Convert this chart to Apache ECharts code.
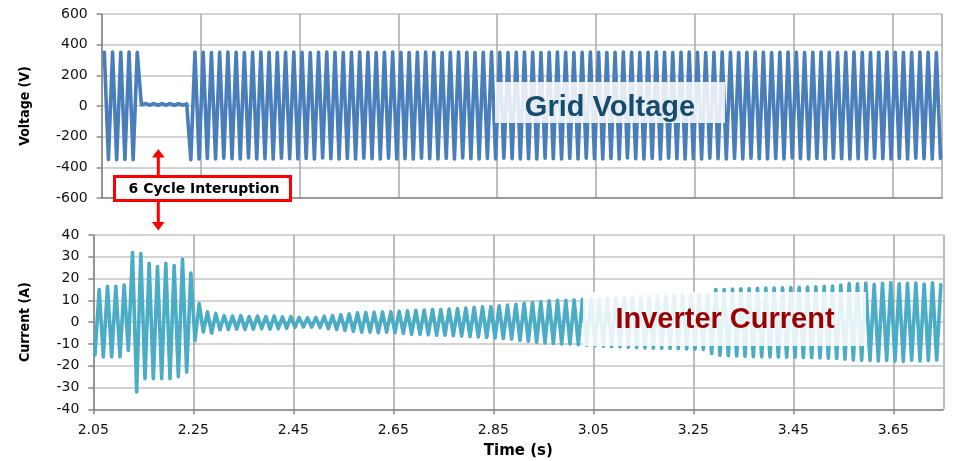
<!DOCTYPE html>
<html>
<head>
<meta charset="utf-8">
<script src="https://cdn.jsdelivr.net/npm/echarts@6/dist/echarts.min.js"></script>
<style>
html,body{margin:0;padding:0;background:#fff;}
#c{width:954px;height:461px;}
</style>
</head>
<body>
<div id="c"></div>
<script>
// ---- Data (half-cycle peak values, 60 Hz time base) ----
const halfPeriod = 1 / 120;          // s between successive peaks (60 Hz)
const voltageStart = 2.0553;         // time of first voltage peak (s)
const currentStart = 2.0534;         // time of first current peak (s)

// Grid voltage (V): before interruption, during the 6-cycle interruption, after
const voltageBefore = [350, -348, 352, -350, 350, -348, 352, -350, 350];
const voltageDuring = [8, 16, 6, 16, 5, 15, 6, 16, 5, 15, 6, 14];
const voltageAfter = [
  -350,352, -346,350, -342,348, -345,350, -340,352, -344,350, -346,348, -338,350, -345,352, -343,350,
  -346,348, -340,350, -344,352, -346,350, -342,348, -345,350, -338,352, -344,350, -346,348, -342,350,
  -345,352, -340,350, -344,348, -346,350, -341,352, -345,350, -343,348, -346,350, -340,352, -344,350,
  -346,348, -342,350, -345,352, -339,350, -344,348, -346,350, -342,352, -345,350, -341,348, -344,350,
  -346,352, -343,350, -345,348, -340,350, -344,352, -346,350, -342,348, -345,350, -341,352, -344,350,
  -346,348, -342,350, -345,352, -339,350, -344,348, -346,350, -342,352, -345,350, -340,348, -344,350,
  -346,352, -343,350, -345,348, -341,350, -344,352, -346,350, -342,348, -345,350, -340,352, -344,350,
  -346,348, -342,350, -345,352, -339,350, -344,348, -346,350, -342,352, -345,350, -341,348, -344,350,
  -346,352, -343,350, -345,348, -341,350, -344,352, -346,350, -342,348, -345,350, -340,352, -344,350,
  -346,348, -342
];

// Inverter current (A)
const currentPeaks = [
  -15, 15, -16, 16.5, -16, 16.5, -16, 17, -13, 32, -32, 31.5, -26, 27, -26, 25.5,
  -26, 27, -26, 26, -25, 29, -23, 22.5, -8.5, 8.5, -4.5, 4.7, -5, 4, -3.5, 3,
  -3.4, 2.8, -3.2, 3, -3.4, 2.6, -3.2, 2.8, -3, 2.6, -3.2, 2.8, -3, 2.4, -2.8, 2.6,
  -2.4, 2.2, -2.2, 2, -2.3, 2.2, -2.5,
  2.7, -3, 3, -3.4, 3.4, -3.8, 3.8, -4.2, 4.3, -4.6,
  4.4, -4.6, 4.5, -4.8, 4.6, -4.6, 4.7, -4.8,
  5, -5.2, 5.2, -5.5, 5.4, -5.6, 5.6, -5.8, 5.8,
  -6, 5.8, -6, 6, -6.2, 6.2, -6.4, 6.5, -6.6, 6.8, -6.8, 7, -7, 7.2, -7.3, 7.5,
  -7.5, 7.8, -7.8, 8.2, -8.4, 8.6, -8.8, 9, -9.2, 9.4, -9.5, 9.8, -9.8,
  10, -10, 10, -10, 10.2, -10.3,
  10.5, -10.6, 10.7, -10.8, 10.9, -11, 11, -11.2, 11.2, -11.3, 11.4, -11.5, 11.5, -11.6,
  11.7, -11.8, 11.8, -11.9, 12, -12, 12, -12.1, 12.2, -12.2, 12.3, -12.3, 12.4, -12.4, 12.5, -12.5, 12.5,
  -14.4, 15, -15.2, 15, -15.4, 15.2, -15.5, 15.3, -15.6, 15.4, -15.8, 15.5, -15.9,
  15.6, -16, 15.7, -16, 15.8, -16.1, 15.9, -16.1, 16, -16.2, 16.1, -16.3, 16.2, -16.4, 16.4, -16.5, 16.6, -16.6, 17, -17,
  17.7, -17.4, 17.6, -17.5, 18, -17.6, 17.4, -17.8, 17.8, -17.6, 18.2, -17.8, 17.6, -18, 17.8, -17.5, 18, -17.8, 17.5, -17.6, 18.1, -17.4, 17.2
];

// Axis ticks
const timeMin = 2.05, timeMax = 3.75, timeStep = 0.2;
const voltMin = -600, voltMax = 600, voltStep = 200;
const currMin = -40, currMax = 40, currStep = 10;

// ---- Build series ----
const voltageValues = voltageBefore.concat(voltageDuring, voltageAfter);
const voltageData = voltageValues.map((v, i) => [voltageStart + i * halfPeriod, v]);
const currentData = currentPeaks.map((v, i) => [currentStart + i * halfPeriod, v]);

const labelFont = 'DejaVu Sans';
const titleFont = "'DejaVu Sans Condensed', 'DejaVu Sans', sans-serif";

function xAxisCfg(idx, showLabels) {
  return {
    gridIndex: idx, type: 'value', min: timeMin, max: timeMax, interval: timeStep,
    axisLine: { show: true, onZero: false, lineStyle: { color: '#868686', width: 1.5 } },
    axisTick: { show: showLabels, length: 5, lineStyle: { color: '#868686', width: 1.5 } },
    axisLabel: {
      show: showLabels, showMaxLabel: false, margin: 14,
      fontFamily: labelFont, fontSize: 14, color: '#111',
      formatter: v => v.toFixed(2)
    },
    splitLine: { show: true, lineStyle: { color: '#a8a8a8', width: 1.5 } }
  };
}
function yAxisCfg(idx, min, max, step, name, gap) {
  return {
    gridIndex: idx, type: 'value', min: min, max: max, interval: step,
    name: name, nameLocation: 'middle', nameGap: gap,
    nameTextStyle: { fontFamily: titleFont, fontSize: 14, fontWeight: 'bold', color: '#000' },
    axisLine: { show: true, lineStyle: { color: '#868686', width: 1.5 } },
    axisTick: { show: true, length: 5, lineStyle: { color: '#868686', width: 1.5 } },
    axisLabel: { margin: 14, fontFamily: labelFont, fontSize: 14, color: '#111' },
    splitLine: { show: true, lineStyle: { color: '#c4c4c4', width: 1.5 } }
  };
}

const chart = echarts.init(document.getElementById('c'), null, { renderer: 'canvas' });
chart.setOption({
  animation: false,
  backgroundColor: '#fff',
  grid: [
    { left: 101.7, top: 14, width: 840.3, height: 184 },
    { left: 93.3, top: 235, width: 850, height: 174.3 }
  ],
  xAxis: [
    xAxisCfg(0, false),
    Object.assign(xAxisCfg(1, true), {
      name: 'Time (s)', nameLocation: 'middle', nameGap: 34,
      nameTextStyle: { fontFamily: labelFont, fontSize: 15, fontWeight: 'bold', color: '#000' }
    })
  ],
  yAxis: [
    yAxisCfg(0, voltMin, voltMax, voltStep, 'Voltage (V)', 69),
    yAxisCfg(1, currMin, currMax, currStep, 'Current (A)', 61)
  ],
  series: [
    {
      type: 'line', xAxisIndex: 0, yAxisIndex: 0, data: voltageData,
      showSymbol: false, clip: true, z: 3, sampling: null,
      lineStyle: { color: '#4a7ebb', width: 3.6, join: 'round', cap: 'round' }
    },
    {
      type: 'line', xAxisIndex: 1, yAxisIndex: 1, data: currentData,
      showSymbol: false, clip: true, z: 3, sampling: null,
      lineStyle: { color: '#4bacc6', width: 3.6, join: 'round', cap: 'round' }
    }
  ],
  graphic: [
    { type: 'rect', z: 100, shape: { x: 495, y: 82, width: 230, height: 41 },
      style: { fill: 'rgba(255,255,255,0.84)' } },
    { type: 'text', z: 101, x: 610, y: 108,
      style: { text: 'Grid Voltage', font: 'bold 29px "Liberation Sans", Arial, sans-serif',
               fill: '#164b6e', align: 'center', verticalAlign: 'middle' } },
    { type: 'rect', z: 100, shape: { x: 583, y: 292, width: 283, height: 54 },
      style: { fill: 'rgba(255,255,255,0.86)' } },
    { type: 'text', z: 101, x: 725, y: 320,
      style: { text: 'Inverter Current', font: 'bold 29px "Liberation Sans", Arial, sans-serif',
               fill: '#990000', align: 'center', verticalAlign: 'middle' } },
    { type: 'line', z: 100, shape: { x1: 158.3, y1: 176, x2: 158.3, y2: 156 },
      style: { stroke: '#ff0000', lineWidth: 3 } },
    { type: 'polygon', z: 100, shape: { points: [[152, 157.5], [164.6, 157.5], [158.3, 149]] },
      style: { fill: '#ff0000' } },
    { type: 'line', z: 100, shape: { x1: 158.3, y1: 201, x2: 158.3, y2: 223 },
      style: { stroke: '#ff0000', lineWidth: 3 } },
    { type: 'polygon', z: 100, shape: { points: [[152, 222], [164.6, 222], [158.3, 230.5]] },
      style: { fill: '#ff0000' } },
    { type: 'rect', z: 100, shape: { x: 114.5, y: 176.5, width: 176, height: 24 },
      style: { fill: '#ffffff', stroke: '#ff0000', lineWidth: 3 } },
    { type: 'text', z: 101, x: 204, y: 189,
      style: { text: '6 Cycle Interuption', font: 'bold 14px "DejaVu Sans", sans-serif',
               fill: '#000', align: 'center', verticalAlign: 'middle' } }
  ]
});
</script>
</body>
</html>
